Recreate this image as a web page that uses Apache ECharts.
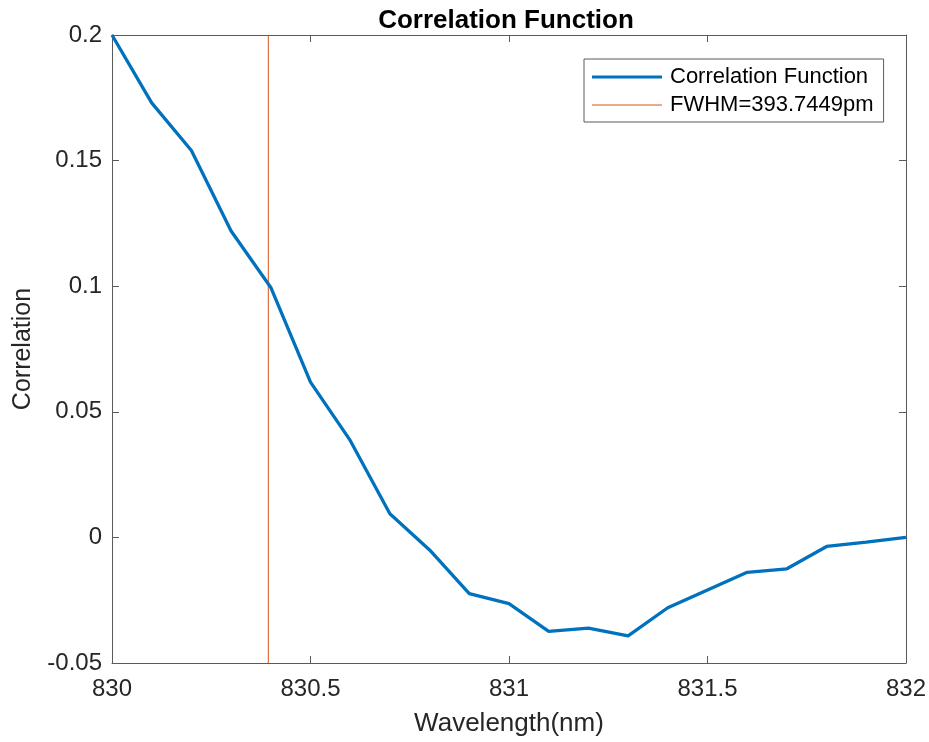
<!DOCTYPE html>
<html>
<head>
<meta charset="utf-8">
<script src="https://cdn.jsdelivr.net/npm/echarts@6/dist/echarts.min.js"></script>
<style>html,body{margin:0;padding:0;background:#fff;}#c{width:929px;height:742px;}</style>
</head>
<body>
<div id="c"></div>
<script>
var wavelengths = [830.0, 830.1, 830.2, 830.3, 830.4, 830.5, 830.6, 830.7, 830.8, 830.9, 831.0, 831.1, 831.2, 831.3, 831.4, 831.5, 831.6, 831.7, 831.8, 831.9, 832.0];
var correlation = [0.200, 0.173, 0.154, 0.122, 0.0995, 0.0618, 0.0386, 0.0094, -0.0050, -0.0224, -0.0264, -0.0374, -0.0361, -0.0392, -0.0280, -0.0209, -0.0139, -0.0125, -0.0036, -0.0019, 0.0];
var fwhmX = [830.3937, 830.3937];
var fwhmY = [-0.05, 0.2];
var seriesNames = ['Correlation Function', 'FWHM=393.7449pm'];
var titleText = 'Correlation Function';
var xName = 'Wavelength(nm)';
var yName = 'Correlation';

var font = 'Liberation Sans, Arial, Helvetica, sans-serif';
var axisCol = '#262626';
var lineCol = '#5a5a5a';
var chart = echarts.init(document.getElementById('c'), null, {renderer: 'canvas'});
function zip(a, b) { return a.map(function (v, i) { return [v, b[i]]; }); }

var baseX = {
  type: 'value', min: 830, max: 832, interval: 0.5,
  axisLine: {show: true, onZero: false, lineStyle: {color: lineCol, width: 1}},
  axisTick: {show: true, inside: true, length: 7, lineStyle: {color: lineCol}},
  splitLine: {show: false}
};
var baseY = {
  type: 'value', min: -0.05, max: 0.2, interval: 0.05,
  axisLine: {show: true, onZero: false, lineStyle: {color: lineCol, width: 1}},
  axisTick: {show: true, inside: true, length: 7, lineStyle: {color: lineCol}},
  splitLine: {show: false}
};

chart.setOption({
  animation: false,
  backgroundColor: '#ffffff',
  title: {
    text: titleText, left: 501, top: 3, textAlign: 'center',
    textStyle: {fontFamily: font, fontSize: 26, fontWeight: 'bold', color: '#000'}
  },
  grid: {left: 112, right: 23, top: 35, bottom: 79, containLabel: false},
  legend: {
    orient: 'vertical', left: 584, top: 59,
    padding: [7, 10, 6, 8], itemGap: 6,
    itemWidth: 70, itemHeight: 14,
    borderColor: lineCol, borderWidth: 1, backgroundColor: '#fff',
    textStyle: {fontFamily: font, fontSize: 22, color: '#000', padding: [0, 0, 0, 3]},
    data: [
      {name: seriesNames[0], icon: 'path://M0,5.5 L70,5.5 L70,8.5 L0,8.5 Z'},
      {name: seriesNames[1], icon: 'path://M0,6.5 L70,6.5 L70,7.5 L0,7.5 Z'}
    ]
  },
  xAxis: [
    Object.assign({}, baseX, {
      position: 'bottom',
      axisLabel: {fontFamily: font, fontSize: 24, color: axisCol, margin: 14},
      name: xName, nameLocation: 'middle', nameGap: 48,
      nameTextStyle: {fontFamily: font, fontSize: 26, color: axisCol}
    }),
    Object.assign({}, baseX, {position: 'top', axisLabel: {show: false}})
  ],
  yAxis: [
    Object.assign({}, baseY, {
      position: 'left',
      axisLabel: {fontFamily: font, fontSize: 24, color: axisCol, margin: 10},
      name: yName, nameLocation: 'middle', nameGap: 76, nameRotate: 90,
      nameTextStyle: {fontFamily: font, fontSize: 25, color: axisCol}
    }),
    Object.assign({}, baseY, {position: 'right', axisLabel: {show: false}})
  ],
  series: [
    {
      name: seriesNames[0], type: 'line', data: zip(wavelengths, correlation),
      symbol: 'none', smooth: false, z: 3,
      lineStyle: {color: '#0072BD', width: 3.3}, itemStyle: {color: '#0072BD'}
    },
    {
      name: seriesNames[1], type: 'line', data: zip(fwhmX, fwhmY),
      symbol: 'none', z: 2,
      lineStyle: {color: '#D95319', width: 1}, itemStyle: {color: '#D95319'}
    }
  ]
});
</script>
</body>
</html>
